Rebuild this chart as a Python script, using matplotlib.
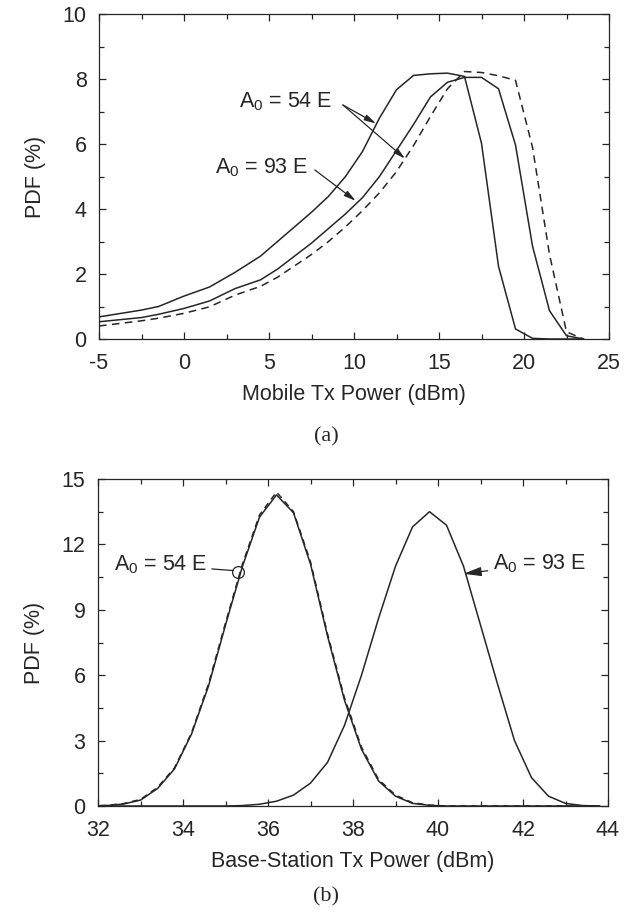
import numpy as np
import matplotlib
matplotlib.use("Agg")
import matplotlib.pyplot as plt
from matplotlib import font_manager
from matplotlib.ticker import MultipleLocator

# the scanned figure uses a narrow sans face; fall back to the regular one
try:
    font_manager.findfont('Liberation Sans Narrow', fallback_to_default=False)
    FAM, FS = 'Liberation Sans Narrow', 17
except Exception:
    FAM, FS = 'Liberation Sans', 15.5

plt.rcParams['font.family'] = [FAM, 'DejaVu Sans']
plt.rcParams['mathtext.fontset'] = 'custom'
plt.rcParams['mathtext.rm'] = FAM
plt.rcParams['axes.unicode_minus'] = False

INK = '#262626'

# (a) mobile Tx power PDF
mob_x = [-5, -2.5, -1.5, 0, 1.5, 3, 4.5, 5.5, 6.5, 7.5, 8.5, 9.5, 10.5, 11.5,
         12.5, 13.5, 14.5, 15.5, 16.5, 17.5, 18.5, 19.5, 20.5, 21.5, 22.5, 23.5]
mob_54_solid = [0.68, 0.89, 1.0, 1.32, 1.6, 2.05, 2.55, 3.0, 3.45, 3.9, 4.39, 5.0, 5.77, 6.8,
                7.67, 8.11, 8.16, 8.18, 8.08, 6.02, 2.24, 0.31, 0.02, 0.0, 0.0, 0.0]
mob_93 = [0.53, 0.66, 0.76, 0.94, 1.17, 1.55, 1.82, 2.15, 2.55, 2.95, 3.4, 3.85, 4.35, 5.0,
          5.8, 6.6, 7.45, 7.9, 8.05, 8.05, 7.7, 5.97, 2.86, 0.87, 0.1, 0.0]
mob_54_dash = [0.4, 0.56, 0.64, 0.79, 0.99, 1.35, 1.62, 1.9, 2.25, 2.6, 3.0, 3.45, 3.95, 4.5,
               5.15, 5.95, 6.85, 7.7, 8.23, 8.2, 8.1, 7.96, 5.9, 2.6, 0.22, 0.0]

# (b) base-station Tx power PDF
bs_x = [31.8, 32.2, 32.6, 33.0, 33.4, 33.8, 34.2, 34.6, 35.0, 35.4, 35.8, 36.2, 36.6, 37.0,
        37.4, 37.8, 38.2, 38.6, 39.0, 39.4, 39.8, 40.2, 40.6, 41.0, 41.4, 41.8, 42.2,
        42.6, 43.0, 43.4, 43.8]
bs_54_solid = [0.0, 0.02, 0.09, 0.27, 0.8, 1.7, 3.3, 5.5, 8.3, 11.0, 13.25, 14.27, 13.45, 11.1,
               7.8, 4.85, 2.6, 1.15, 0.45, 0.12, 0.03, 0.0, 0.0, 0.0, 0.0, 0.0, 0.0,
               0.0, 0.0, 0.0, 0.0]
bs_54_dash = [0.0, 0.03, 0.11, 0.3, 0.85, 1.75, 3.35, 5.6, 8.4, 11.1, 13.35, 14.4, 13.5, 11.2,
              7.9, 4.95, 2.7, 1.22, 0.5, 0.15, 0.04, 0.0, 0.0, 0.0, 0.0, 0.0, 0.0,
              0.0, 0.0, 0.0, 0.0]
bs_93 = [0.0, 0.0, 0.0, 0.0, 0.0, 0.0, 0.0, 0.0, 0.0, 0.02, 0.08, 0.22, 0.5, 1.05,
         2.0, 3.7, 6.0, 8.6, 11.0, 12.8, 13.5, 12.88, 11.0, 8.3, 5.6, 3.0, 1.3,
         0.45, 0.12, 0.02, 0.0]

fig = plt.figure(figsize=(6.33, 9.18), dpi=100)
ax1 = fig.add_axes([99/633, 1-339/918, 510/633, 325/918])
ax2 = fig.add_axes([98/633, 1-806/918, 510/633, 327/918])


def style(ax):
    for s in ax.spines.values():
        s.set_color(INK)
        s.set_linewidth(0.9)
    ax.tick_params(which='both', direction='in', top=True, right=True,
                   colors=INK, labelsize=FS, width=0.9)
    ax.tick_params(which='major', length=5)
    ax.tick_params(which='minor', length=3.5)
    ax.tick_params(axis='x', pad=10)
    ax.tick_params(axis='y', pad=9)


lw = 1.1
ax1.plot(mob_x, mob_54_solid, color=INK, lw=lw)
ax1.plot(mob_x, mob_93, color=INK, lw=lw)
ax1.plot(mob_x, mob_54_dash, color=INK, lw=lw, dashes=(5, 3.5))
ax1.set_xlim(-5, 25)
ax1.set_ylim(0, 10)
ax1.xaxis.set_major_locator(MultipleLocator(5))
ax1.xaxis.set_minor_locator(MultipleLocator(2.5))
ax1.yaxis.set_major_locator(MultipleLocator(2))
ax1.yaxis.set_minor_locator(MultipleLocator(1))
style(ax1)
ax1.set_xlabel('Mobile Tx Power (dBm)', fontsize=FS, color=INK, labelpad=7)
ax1.set_ylabel('PDF (%)', fontsize=FS, color=INK, labelpad=12)

arrow = dict(arrowstyle='-|>,head_length=0.7,head_width=0.18', lw=0.9,
             color=INK, shrinkA=0, shrinkB=0)
ax1.annotate(r'A$_\mathregular{0}$ = 54 E', xy=(11.3, 6.63), xytext=(3.25, 7.3),
             fontsize=FS, color=INK, ha='left', va='center')
ax1.annotate('', xy=(11.3, 6.63), xytext=(9.35, 7.2), arrowprops=arrow)
ax1.annotate('', xy=(13.0, 5.55), xytext=(9.35, 7.2), arrowprops=arrow)
ax1.annotate(r'A$_\mathregular{0}$ = 93 E', xy=(7.35, 5.26), xytext=(1.8, 5.26),
             fontsize=FS, color=INK, ha='left', va='center')
ax1.annotate('', xy=(10.1, 4.25), xytext=(7.7, 5.2), arrowprops=arrow)

ax2.plot(bs_x, bs_54_dash, color=INK, lw=lw, dashes=(4, 3))
ax2.plot(bs_x, bs_54_solid, color=INK, lw=lw)
ax2.plot(bs_x, bs_93, color=INK, lw=lw)
ax2.set_xlim(32, 44)
ax2.set_ylim(0, 15)
ax2.xaxis.set_major_locator(MultipleLocator(2))
ax2.xaxis.set_minor_locator(MultipleLocator(1))
ax2.yaxis.set_major_locator(MultipleLocator(3))
ax2.yaxis.set_minor_locator(MultipleLocator(1.5))
style(ax2)
ax2.set_xlabel('Base-Station Tx Power (dBm)', fontsize=FS, color=INK, labelpad=7)
ax2.set_ylabel('PDF (%)', fontsize=FS, color=INK, labelpad=12)

ax2.plot([35.3], [10.75], marker='o', ms=8.5, mfc='none', mec=INK, mew=0.9)
ax2.annotate(r'A$_\mathregular{0}$ = 54 E', xy=(35.18, 10.8), xytext=(34.58, 11.05),
             fontsize=FS, color=INK, ha='right', va='center',
             arrowprops=dict(arrowstyle='-', lw=0.9, color=INK, shrinkA=1, shrinkB=0))
ax2.annotate(r'A$_\mathregular{0}$ = 93 E', xy=(40.6, 10.65), xytext=(41.3, 11.1),
             fontsize=FS, color=INK, ha='left', va='center',
             arrowprops=dict(arrow, shrinkA=2))

fig.text(326/633, 1-437/918, '(a)', family='Liberation Serif', fontsize=16,
         color=INK, ha='center', va='center')
fig.text(326/633, 1-897/918, '(b)', family='Liberation Serif', fontsize=16,
         color=INK, ha='center', va='center')

fig.savefig('out.png', dpi=100)
